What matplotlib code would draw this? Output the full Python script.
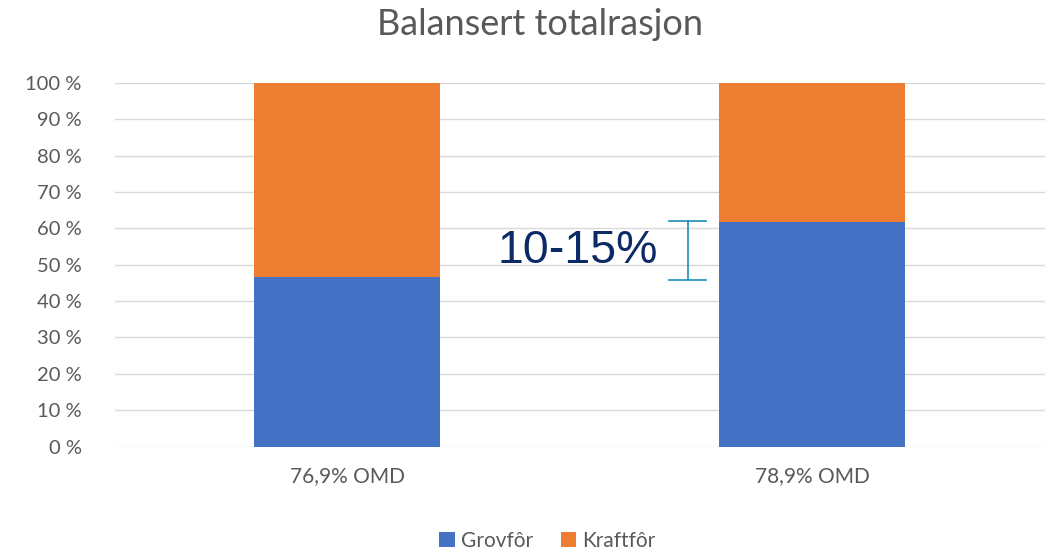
import matplotlib
matplotlib.use("Agg")
import matplotlib.pyplot as plt
from matplotlib.ticker import FuncFormatter

categories = ["76,9% OMD", "78,9% OMD"]
grovfor = [46.7, 61.7]
kraftfor = [53.3, 38.3]
series_names = ["Grovfôr", "Kraftfôr"]
bracket_range = [45.8, 62.0]
annotation = "10-15%"

plt.rcParams['font.family'] = ['Lato', 'DejaVu Sans']

fig = plt.figure(figsize=(10.53, 5.54), dpi=100)
ax = fig.add_axes([0.1092, 0.1937, 0.8832, 0.657])

x = list(range(len(categories)))
ax.bar(x, grovfor, width=0.4, color="#4472C4", label=series_names[0], zorder=3)
ax.bar(x, kraftfor, width=0.4, bottom=grovfor, color="#ED7D31", label=series_names[1], zorder=3)

ax.set_xlim(-0.5, 1.5)
ax.set_ylim(0, 100)
ax.set_yticks(range(0, 101, 10))
ax.yaxis.set_major_formatter(FuncFormatter(lambda v, p: f"{int(v)} %"))
ax.grid(axis="y", color="#D9D9D9", linewidth=1, zorder=0)
for s in ax.spines.values():
    s.set_visible(False)
ax.tick_params(axis="both", length=0, colors="#595959", labelsize=14.5)
ax.tick_params(axis="y", pad=24)
ax.tick_params(axis="x", labelsize=15, pad=14)
ax.set_xticks(x)
ax.set_xticklabels(categories)

# bracket
bx = 0.732
ax.plot([bx, bx], bracket_range, color="#1C8CB4", lw=1.2, zorder=4)
for yv in bracket_range:
    ax.plot([bx - 0.04, bx + 0.04], [yv, yv], color="#1C8CB4", lw=1.2, zorder=4)
ax.text(0.668, 53.8, annotation, ha="right", va="center", fontsize=33.5,
        color="#0C2A66", family=["Liberation Sans", "DejaVu Sans"], zorder=5)

fig.text(0.513, 0.955, "Balansert totalrasjon", ha="center", va="center",
         fontsize=26, color="#595959")

fig.legend(loc="center", bbox_to_anchor=(0.52, 0.024), ncol=2, frameon=False,
           fontsize=15, handlelength=0.75, handleheight=0.75, handletextpad=0.3,
           columnspacing=1.3, labelcolor="#595959")

fig.savefig("out.png", dpi=100)
